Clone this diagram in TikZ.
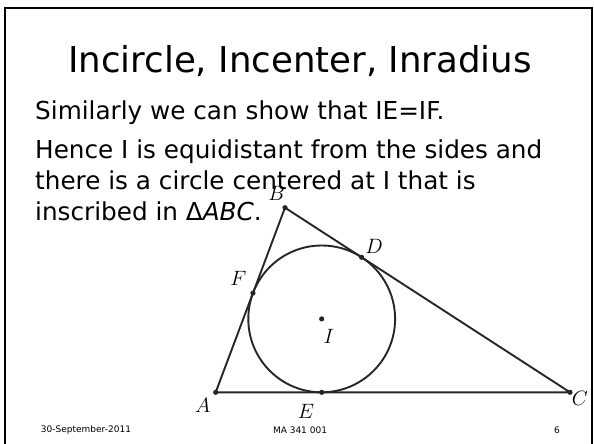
\documentclass[tikz,border=0pt]{standalone}
\usepackage{fontspec}
\setmainfont{DejaVu Sans}
\usetikzlibrary{calc}
\begin{document}
\begin{tikzpicture}[x=1pt, y=-1pt,
    lbl/.style={font=\fontsize{21}{21}\selectfont\rmfamily},
    body/.style={anchor=base west, inner sep=0pt, font=\fontsize{24.7}{30}\selectfont},
    foot/.style={inner sep=0pt, font=\fontsize{9}{9}\selectfont}]

\useasboundingbox (0,0) rectangle (594,444);

%% === CORNICE DELLA SLIDE ===
\draw[black, line width=1.8pt] (5,448) -- (5,8) -- (592,8) -- (592,448);

%% === TESTI ===
\node[anchor=base, inner sep=0pt, font=\fontsize{35.6}{36}\selectfont] (title) at (300,73)
    {Incircle, Incenter, Inradius};
\node[body] (line1) at (35,119) {Similarly we can show that IE=IF.};
\node[body] (line2) at (35,158) {Hence I is equidistant from the sides and};
\node[body] (line3) at (35,189) {there is a circle centered at I that is};
\node[body] (line4) at (35,220) {inscribed in Δ\textit{ABC}.};

%% === TRIANGOLO E CERCHIO INSCRITTO ===
\coordinate (A) at (215.7,392.3);
\coordinate (B) at (285,207.7);
\coordinate (C) at (570,392.3);
\coordinate (I) at (321.7,318.9);
%% punti di tangenza = proiezioni di I sui lati
\coordinate (D) at ($(B)!(I)!(C)$);
\coordinate (E) at ($(A)!(I)!(C)$);
\coordinate (F) at ($(A)!(I)!(B)$);

\draw[black!85, line width=1.9pt, line join=round] (A) -- (B) -- (C) -- cycle;
\draw[black!85, line width=1.9pt] (I) circle[radius=73.4pt];

\foreach \p in {A,B,C,D,E,F,I}
    \fill[black!85] (\p) circle[radius=2.6pt];

\node[lbl] (labA) at (202.7,405)   {$A$};
\node[lbl] (labB) at (276.7,193.3) {$B$};
\node[lbl] (labC) at (580,398.3)   {$C$};
\node[lbl] (labD) at (374,246.7)   {$D$};
\node[lbl] (labE) at (306,411.7)   {$E$};
\node[lbl] (labF) at (238.3,278.3) {$F$};
\node[lbl] (labI) at (329,336.7)   {$I$};

%% === PIÈ DI PAGINA ===
\node[foot] (date)  at (86,430)  {30-September-2011};
\node[foot] (code)  at (300,430) {MA 341 001};
\node[foot] (page)  at (557,430) {6};

\end{tikzpicture}
\end{document}
